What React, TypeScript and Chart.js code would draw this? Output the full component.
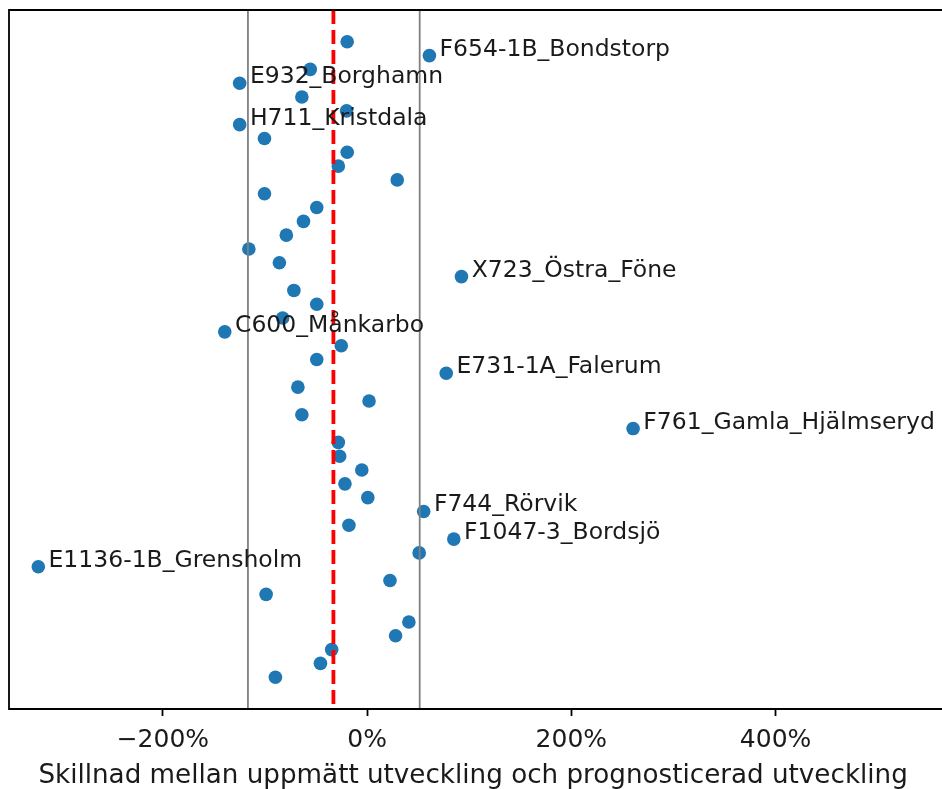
import React, { useEffect, useRef } from "react";
import { Chart, registerables } from "chart.js";

Chart.register(...registerables);

// Row position of each site (top = 0); row 41 has no value
const ROW = [0, 1, 2, 3, 4, 5, 6, 7, 8, 9, 10, 11, 12, 13, 14, 15, 16, 17, 18, 19, 20, 21, 22, 23, 24, 25, 26, 27, 28, 29, 30, 31, 32, 33, 34, 35, 36, 37, 38, 39, 40, 42, 43, 44, 45, 46];
// Difference between measured and forecast development (%)
const DIFF_PCT = [-19.5, 61, -55.7, -124.8, -63.9, -20.1, -124.8, -100.5, -19.5, -28.2, 29.5, -100.5, -49.3, -62.3, -79.1, -115.8, -85.9, 92.4, -71.7, -49.3, -82.7, -139.4, -25.3, -49.3, 77.5, -67.8, 1.9, -63.9, 260.5, -28.2, -26.9, -5.2, -21.7, 0.7, 55.4, -17.8, 84.9, 51.0, -322, 22.4, -98.9, 40.9, 27.9, -34.7, -45.7, -89.8];
// Labelled outliers: row -> name
const LABEL_ROWS = [1, 3, 6, 17, 21, 24, 28, 34, 36, 38];
const LABEL_NAMES = ["F654-1B_Bondstorp", "E932_Borghamn", "H711_Kristdala", "X723_Östra_Föne", "C600_Månkarbo", "E731-1A_Falerum", "F761_Gamla_Hjälmseryd", "F744_Rörvik", "F1047-3_Bordsjö", "E1136-1B_Grensholm"];

const MEAN_PCT = -33;
const LOWER_PCT = -116.7;
const UPPER_PCT = 51.5;
const X_TICKS = [-200, 0, 200, 400];
const X_MIN = -350.7;
const X_MAX = 558.3;
const X_TITLE = "Skillnad mellan uppmätt utveckling och prognosticerad utveckling";
const LABEL_OFFSET_PCT = 10;

const FONT = "DejaVu Sans";
const VIEW_W = 942;
const CANVAS_W = 944;
const PAD_LEFT = 9;

export default function App() {
  const ref = useRef<HTMLCanvasElement | null>(null);
  useEffect(() => {
    document.body.style.margin = "0";
    const canvas = ref.current!;
    const overlay = {
      id: "overlay",
      afterDatasetsDraw(chart: any) {
        const ctx = chart.ctx;
        const xs = chart.scales.x;
        const ys = chart.scales.y;
        const a = chart.chartArea;
        ctx.save();
        ctx.strokeStyle = "#808080";
        ctx.lineWidth = 1.8;
        for (const v of [LOWER_PCT, UPPER_PCT]) {
          const px = xs.getPixelForValue(v);
          ctx.beginPath();
          ctx.moveTo(px, a.top);
          ctx.lineTo(px, a.bottom);
          ctx.stroke();
        }
        ctx.strokeStyle = "#ff0000";
        ctx.lineWidth = 3.8;
        ctx.setLineDash([14, 6]);
        const mx = xs.getPixelForValue(MEAN_PCT);
        ctx.beginPath();
        ctx.moveTo(mx, a.top);
        ctx.lineTo(mx, a.bottom);
        ctx.stroke();
        ctx.setLineDash([]);
        ctx.fillStyle = "#1a1a1a";
        ctx.font = `23.5px "${FONT}"`;
        ctx.textBaseline = "alphabetic";
        ctx.textAlign = "left";
        LABEL_ROWS.forEach((row, i) => {
          const k = ROW.indexOf(row);
          const v = DIFF_PCT[k];
          ctx.fillText(LABEL_NAMES[i], xs.getPixelForValue(v + LABEL_OFFSET_PCT), ys.getPixelForValue(row));
        });
        ctx.strokeStyle = "#000";
        ctx.lineWidth = 1.8;
        ctx.beginPath();
        ctx.moveTo(a.right + 5, a.top);
        ctx.lineTo(a.left, a.top);
        ctx.lineTo(a.left, a.bottom);
        ctx.lineTo(a.right + 5, a.bottom);
        ctx.stroke();
        ctx.restore();
      },
    };
    const chart = new Chart(canvas, {
      type: "scatter",
      data: {
        datasets: [
          {
            data: ROW.map((r, i) => ({ x: DIFF_PCT[i], y: r })),
            backgroundColor: "#1f77b4",
            borderWidth: 0,
            pointRadius: 6.8,
          },
        ],
      },
      options: {
        responsive: false,
        animation: false,
        layout: { padding: { left: PAD_LEFT, top: 10, right: 0, bottom: 0 } },
        plugins: { legend: { display: false }, tooltip: { enabled: false }, title: { display: false } },
        scales: {
          y: { display: false, min: -2.3, max: 48.3, reverse: true },
          x: {
            type: "linear",
            min: X_MIN,
            max: X_MAX,
            afterBuildTicks: (s: any) => {
              s.ticks = X_TICKS.map((v) => ({ value: v }));
            },
            afterFit: (s: any) => {
              s.height = 80;
            },
            border: { display: false },
            grid: { display: true, drawOnChartArea: false, drawTicks: true, tickLength: 7, tickWidth: 1.8, tickColor: "#000" },
            ticks: {
              padding: 9,
              color: "#1a1a1a",
              font: { family: FONT, size: 25 },
              callback: (v: any) => (v < 0 ? "\u2212" + Math.abs(v) : String(v)) + "%",
            },
            title: {
              display: true,
              text: X_TITLE,
              color: "#1a1a1a",
              font: { family: FONT, size: 26.2 },
              padding: { top: 0, bottom: -3 },
            },
          },
        },
      },
      plugins: [overlay],
    });
    return () => chart.destroy();
  }, []);
  return (
    <div style={{ position: "absolute", left: 0, top: 0, width: VIEW_W, height: 789, overflow: "hidden" }}>
      <canvas ref={ref} width={CANVAS_W} height={789} style={{ display: "block" }} />
    </div>
  );
}
